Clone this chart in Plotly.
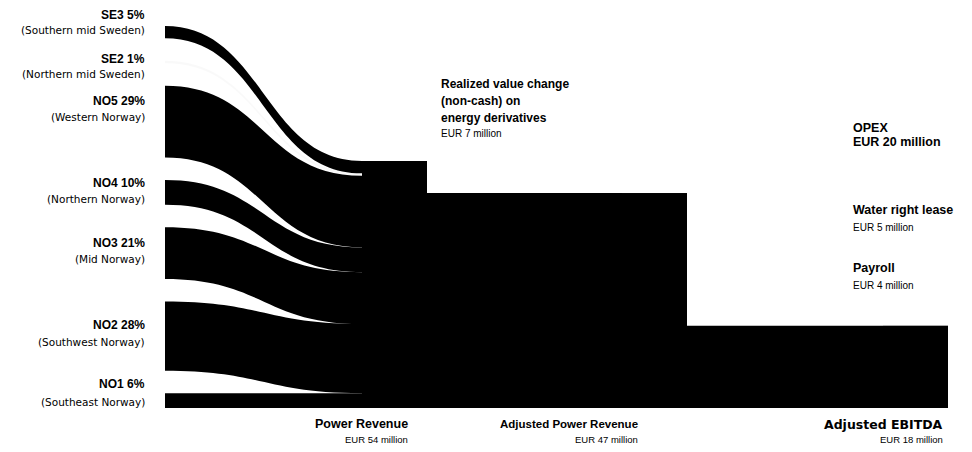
import plotly.graph_objects as go

# ---------------- data ----------------
regions = ["SE3", "SE2", "NO5", "NO4", "NO3", "NO2", "NO1"]
region_names = ["(Southern mid Sweden)", "(Northern mid Sweden)", "(Western Norway)",
                "(Northern Norway)", "(Mid Norway)", "(Southwest Norway)", "(Southeast Norway)"]
region_share_pct = [5, 1, 29, 10, 21, 28, 6]

power_revenue = 54          # EUR million
realized_value_change = 7   # EUR million (non-cash)
adjusted_power_revenue = 47
opex = 20
water_right_lease = 5
payroll = 4
adjusted_ebitda = 18

# ---------------- layout constants ----------------
W, H = 972, 452
OFF = 8                      # page offset of the figure inside the browser window
DOM_TOP, DOM_BOT = 26, 408   # target window pixels
DOM_H = DOM_BOT - DOM_TOP
PAD = 22.5
THICK = 65
FONT = "Liberation Sans, Arial, sans-serif"
FONT_SUB = "DejaVu Sans, Liberation Sans, sans-serif"

region_vals = [p / 100 * power_revenue for p in region_share_pct]

# node indices
n_reg = len(regions)
PR, RVC, APR, OPX, WRL, PAY, EBT = range(n_reg, n_reg + 7)

src, tgt, val, lcol = [], [], [], []
BLACK = "rgba(0,0,0,1)"
CLEAR = "rgba(0,0,0,0)"
for i, v in enumerate(region_vals):
    src.append(i); tgt.append(PR); val.append(v)
    lcol.append("rgba(0,0,0,0.025)" if region_share_pct[i] <= 1 else BLACK)
for s, t, v, c in [(PR, RVC, realized_value_change, CLEAR),
                   (PR, APR, adjusted_power_revenue, BLACK),
                   (APR, OPX, opex, CLEAR),
                   (APR, WRL, water_right_lease, CLEAR),
                   (APR, PAY, payroll, CLEAR),
                   (APR, EBT, adjusted_ebitda, BLACK)]:
    src.append(s); tgt.append(t); val.append(v); lcol.append(c)

# scale (px per EUR million), same rule as the sankey engine
columns = [region_vals,
           [power_revenue],
           [realized_value_change, adjusted_power_revenue],
           [opex, water_right_lease, payroll, adjusted_ebitda]]
ky = min((DOM_H - (len(c) - 1) * PAD) / sum(c) for c in columns)

node_x = [0.0] * (n_reg + 7)
node_y = [0.0] * (n_reg + 7)
col_px = [165 - THICK / 2, 362 + THICK / 2, 622 + THICK / 2, 883 + THICK / 2]

def fx(px):
    return (px - OFF) / W

# left column stacked from top
y0 = 0.0
for i, v in enumerate(region_vals):
    h = v * ky
    node_x[i] = fx(col_px[0])
    node_y[i] = (y0 + h / 2) / DOM_H
    y0 += h + PAD

def stack_up(indices, values, xpx):
    ybot = DOM_H
    for idx, v in zip(reversed(indices), reversed(values)):
        h = v * ky
        node_x[idx] = fx(xpx)
        node_y[idx] = (ybot - h / 2) / DOM_H
        ybot -= h + PAD

stack_up([PR], [power_revenue], col_px[1])
stack_up([RVC, APR], [realized_value_change, adjusted_power_revenue], col_px[2])
stack_up([OPX, WRL, PAY, EBT], [opex, water_right_lease, payroll, adjusted_ebitda], col_px[3])

node_col = [CLEAR] * (n_reg + 7)
for k in (PR, APR, EBT):
    node_col[k] = BLACK

fig = go.Figure(go.Sankey(
    arrangement="fixed",
    domain=dict(x=[0, 1], y=[1 - (DOM_BOT - OFF) / H, 1 - (DOM_TOP - OFF) / H]),
    node=dict(label=[""] * (n_reg + 7), x=node_x, y=node_y, pad=PAD,
              thickness=THICK, color=node_col, line=dict(width=0)),
    link=dict(source=src, target=tgt, value=val, color=lcol),
    hoverinfo="skip",
))

ann = []
def txt(xp, yp, s, size, bold=False, anchor="left", family=FONT):
    ann.append(dict(x=fx(xp), y=1 - (yp - OFF) / H, xref="paper", yref="paper",
                    text=f"<b>{s}</b>" if bold else s, showarrow=False,
                    xanchor=anchor, yanchor="middle",
                    font=dict(family=family, size=size, color="black")))

title_y = [15, 59, 101, 183, 243, 325, 384]
sub_y = [30, 74, 117, 199, 259, 342, 402]
for r, p, nm, ty, sy in zip(regions, region_share_pct, region_names, title_y, sub_y):
    txt(147, ty, f"{r} {p}%", 12, True, "right")
    txt(147, sy, nm, 10.5, False, "right", FONT_SUB)

txt(439, 84, "Realized value change", 12, True)
txt(439, 101, "(non-cash) on", 12, True)
txt(439, 118, "energy derivatives", 12, True)
txt(439, 133, f"EUR {realized_value_change} million", 10)

txt(851, 128, "OPEX", 12.5, True)
txt(851, 142, f"EUR {opex} million", 12.5, True)
txt(851, 210, "Water right lease", 12.5, True)
txt(851, 227, f"EUR {water_right_lease} million", 10)
txt(851, 268, "Payroll", 12.5, True)
txt(851, 285, f"EUR {payroll} million", 10)

txt(410, 424, "Power Revenue", 12.5, True, "right")
txt(410, 439, f"EUR {power_revenue} million", 9.5, False, "right")
txt(640, 424, "Adjusted Power Revenue", 11.5, True, "right")
txt(640, 439, f"EUR {adjusted_power_revenue} million", 9.5, False, "right")
txt(945, 424, "Adjusted EBITDA", 12.5, True, "right", FONT_SUB)
txt(945, 439, f"EUR {adjusted_ebitda} million", 9.5, False, "right")

fig.update_layout(width=W, height=H, margin=dict(l=0, r=0, t=0, b=0),
                  paper_bgcolor="white", plot_bgcolor="white",
                  annotations=ann, font=dict(family=FONT))
fig.write_html("out.html")
